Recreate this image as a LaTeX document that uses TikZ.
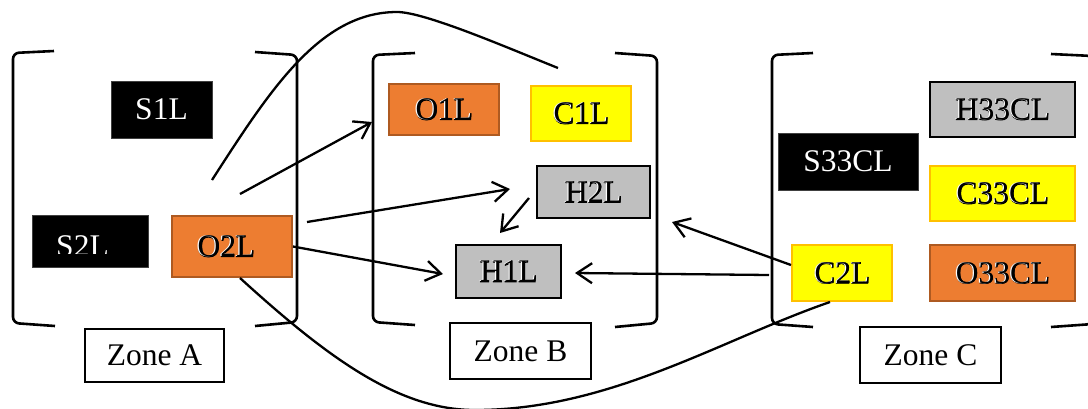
\documentclass[tikz,border=0pt]{standalone}
\usepackage{fontspec}
\setmainfont{Liberation Serif}
\usetikzlibrary{arrows.meta}
\definecolor{boxorange}{HTML}{ED7D31}
\definecolor{orangeedge}{HTML}{AE5A21}
\definecolor{boxyellow}{HTML}{FFFF00}
\definecolor{yellowedge}{HTML}{FFC000}
\definecolor{boxgray}{HTML}{BFBFBF}
% embossed lettering: heavy black base, a white highlight and a black cap
\newcommand{\emb}[1]{\leavevmode
  \rlap{\addfontfeature{FakeBold=2.6}#1}%
  \rlap{\hspace*{-0.7pt}\textcolor{white}{#1}}%
  \rlap{\hspace*{0.5pt}#1}%
  \phantom{#1}}
\tikzset{
  box/.style={draw, line width=2pt, inner sep=0pt, font=\fontsize{31.5}{36}\selectfont},
  blackbox/.style={box, fill=black, draw=black!75, line width=0.8pt, text=white},
  orangebox/.style={box, fill=boxorange, draw=orangeedge},
  yellowbox/.style={box, fill=boxyellow, draw=yellowedge},
  graybox/.style={box, fill=boxgray, draw=black},
  zonebox/.style={box, fill=white, draw=black, line width=1.4pt},
  bracket/.style={line width=2.6pt, rounded corners=6pt},
  wire/.style={line width=2.3pt},
  arr/.style={wire, -{Straight Barb[length=15pt,width=20pt]}}
}
\begin{document}
\begin{tikzpicture}[x=1pt,y=-1pt]
\clip (0,0) rectangle (1088,408);
\fill[white] (0,0) rectangle (1088,408);

% zone brackets
\draw[bracket] (54,51) -- (13,53) -- (13,323) -- (55,326);
\draw[bracket] (255,52) -- (297,55) -- (297,322) -- (255,326);
\draw[bracket] (415,53) -- (373,55) -- (373,322) -- (415,325);
\draw[bracket] (615,53) -- (657,56) -- (657,323) -- (615,327);
\draw[bracket] (813,53) -- (772,55) -- (772,324) -- (813,327);
\draw[bracket] (1051,54) -- (1093,56) -- (1093,324) -- (1051,327);

% zone A
\node[blackbox, minimum width=101pt, minimum height=57pt] (s1) at (161.5,109.5) {S1L};
\node[blackbox, minimum width=116pt, minimum height=52pt] (s2) at (90,241) {};
\begin{scope}
  \clip (32,215) rectangle (148,253.5);
  \node[font=\fontsize{31.5}{36}\selectfont, text=white, anchor=base, inner sep=0pt] (s2t) at (82.5,256) {S2L};
\end{scope}
\node[orangebox, minimum width=120pt, minimum height=61pt] (o2) at (232,246.5) {\emb{O2L}\hspace*{12pt}};

% zone B
\node[orangebox, minimum width=110pt, minimum height=51pt] (o1) at (444,109.5) {\emb{O1L}};
\node[yellowbox, minimum width=100pt, minimum height=55pt] (c1) at (581,113.5) {\emb{C1L}};
\node[graybox, minimum width=113pt, minimum height=52pt] (h2) at (593.5,192) {\emb{H2L}};
\node[graybox, minimum width=105pt, minimum height=53pt] (h1) at (508.5,271.5) {\emb{H1L}};

% zone C
\node[graybox, minimum width=145pt, minimum height=55pt] (h33) at (1002.5,109.5) {\emb{H33CL}};
\node[blackbox, minimum width=140pt, minimum height=57pt] (s33) at (848,161.5) {S33CL};
\node[yellowbox, minimum width=145pt, minimum height=55pt] (c33) at (1002.5,193.5) {\emb{C33CL}};
\node[yellowbox, minimum width=100pt, minimum height=56pt] (c2) at (842,273) {\emb{C2L}};
\node[orangebox, minimum width=145pt, minimum height=56pt] (o33) at (1002.5,273) {\emb{O33CL}};

% zone labels
\node[zonebox, minimum width=139pt, minimum height=53pt] (za) at (154.5,355.5) {Zone A};
\node[zonebox, minimum width=141pt, minimum height=56pt] (zb) at (520.5,351) {Zone B};
\node[zonebox, minimum width=141pt, minimum height=56pt] (zc) at (930.5,355) {Zone C};

% free ends of the connectors
\coordinate (arcA) at (212,180);
\coordinate (arcB) at (558,68);
\coordinate (toBfrom) at (240,194);
\coordinate (toB) at (372,122);
\coordinate (toH2from) at (307,222);
\coordinate (toH2) at (510,189);
\coordinate (toH1) at (443,274);
\coordinate (h2out) at (529,198);
\coordinate (h1top) at (500,233);
\coordinate (c2out) at (769,275);
\coordinate (h1right) at (575,273);
\coordinate (h2right) at (672,222);

% connectors
\draw[wire] (arcA) .. controls (270,90) and (320,12) .. (397,12)
            .. controls (425,12) and (508,48) .. (arcB);
\draw[arr] (toBfrom) -- (toB);
\draw[arr] (toH2from) -- (toH2);
\draw[arr] (o2.east) -- (toH1);
\draw[arr] (h2out) -- (h1top);
\draw[arr] (c2out) -- (h1right);
\draw[arr] ([yshift=8pt]c2.west) -- (h2right);
\draw[wire] ([xshift=8pt]o2.south) .. controls (330,360) and (400,410) .. (475,410)
            .. controls (610,410) and (720,340) .. ([xshift=-12pt]c2.south);
\end{tikzpicture}
\end{document}
